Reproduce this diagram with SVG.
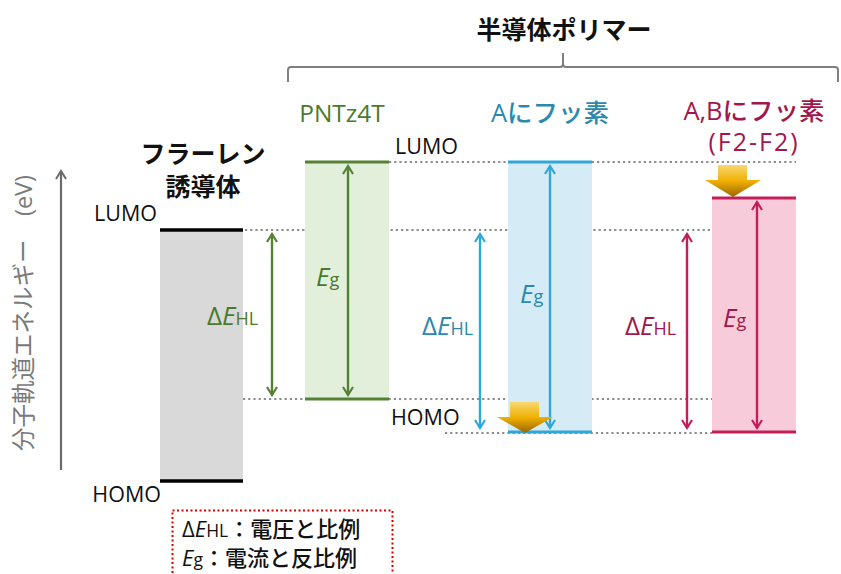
<svg xmlns="http://www.w3.org/2000/svg" width="841" height="574" viewBox="0 0 841 574">
<defs>
<style>
text{font-family:"Open Sans","Noto Sans CJK JP",sans-serif}
.dot{stroke:#8c8c8c;stroke-width:2.2;stroke-dasharray:2.2 3;fill:none}
.lbl{font-size:21.5px;fill:#111;font-weight:500}
.ttl{font-size:25px;font-weight:bold;fill:#111}
.sym{font-size:26px}
.sub{font-size:18px}
.g,.b,.r{font-weight:500}
.g{fill:#4a7a2c}.b{fill:#2c88ad}.r{fill:#a0184c}
.it{font-style:italic}
</style>
<marker id="mg" viewBox="0 0 12 12" refX="10" refY="6" markerWidth="12" markerHeight="12" markerUnits="userSpaceOnUse" orient="auto-start-reverse"><path d="M2,1 L10,6 L2,11" fill="none" stroke="#548235" stroke-width="2.2"/></marker>
<marker id="mb" viewBox="0 0 12 12" refX="10" refY="6" markerWidth="12" markerHeight="12" markerUnits="userSpaceOnUse" orient="auto-start-reverse"><path d="M2,1 L10,6 L2,11" fill="none" stroke="#2ea8da" stroke-width="2.2"/></marker>
<marker id="mr" viewBox="0 0 12 12" refX="10" refY="6" markerWidth="12" markerHeight="12" markerUnits="userSpaceOnUse" orient="auto-start-reverse"><path d="M2,1 L10,6 L2,11" fill="none" stroke="#c41e5a" stroke-width="2.2"/></marker>
<marker id="mk" viewBox="0 0 12 12" refX="10" refY="6" markerWidth="12" markerHeight="12" markerUnits="userSpaceOnUse" orient="auto"><path d="M2,1 L10,6 L2,11" fill="none" stroke="#6b6b6b" stroke-width="2"/></marker>
<linearGradient id="gold" x1="0" y1="0" x2="0" y2="1">
<stop offset="0" stop-color="#f8d872"/><stop offset="0.5" stop-color="#f0b000"/><stop offset="1" stop-color="#9a6400"/>
</linearGradient>
</defs>

<g id="connectors">
<line class="dot" x1="245" y1="230" x2="712" y2="230"/>
<line class="dot" x1="389" y1="162" x2="796" y2="162"/>
<line class="dot" x1="243" y1="399" x2="796" y2="399"/>
<line class="dot" x1="445" y1="433" x2="712" y2="433"/>
<line x1="61" y1="470" x2="61" y2="171" stroke="#6b6b6b" stroke-width="2.2" marker-end="url(#mk)"/>
</g>

<g id="axis-label">
<text x="0" y="0" transform="translate(32,313) rotate(-90)" text-anchor="middle" font-size="23.5" fill="#7a7a7a">分子軌道エネルギー　(eV)</text>
</g>

<g id="title">
<text class="ttl" x="564" y="39" text-anchor="middle" font-size="26">半導体ポリマー</text>
<path d="M288,82 L288,70 Q288,67 291,67 L560,67 Q563,67 563,64 L563,53 L563,64 Q563,67 566,67 L835,67 Q838,67 838,70 L838,82" fill="none" stroke="#7f7f7f" stroke-width="2"/>
</g>

<g id="fullerene">
<text class="ttl" x="203" y="163" text-anchor="middle">フラーレン</text>
<text class="ttl" x="203" y="196" text-anchor="middle">誘導体</text>
<rect x="160" y="230" width="83" height="251" fill="#d9d9d9"/>
<line x1="160" y1="230" x2="243" y2="230" stroke="#000" stroke-width="3.5"/>
<line x1="160" y1="481" x2="243" y2="481" stroke="#000" stroke-width="3.5"/>
<text class="lbl" x="157" y="221" text-anchor="end">LUMO</text>
<text class="lbl" x="161" y="502" text-anchor="end">HOMO</text>
</g>

<g id="pntz4t">
<text x="342" y="122" text-anchor="middle" font-size="24.5" class="g">PNTz4T</text>
<rect x="305" y="162" width="84" height="237" fill="#e2efda"/>
<line x1="305" y1="162" x2="389" y2="162" stroke="#548235" stroke-width="3"/>
<line x1="305" y1="399" x2="389" y2="399" stroke="#548235" stroke-width="3"/>
<line x1="348" y1="166" x2="348" y2="395" stroke="#548235" stroke-width="2.4" marker-start="url(#mg)" marker-end="url(#mg)"/>
<line x1="272" y1="234" x2="272" y2="395" stroke="#548235" stroke-width="2.4" marker-start="url(#mg)" marker-end="url(#mg)"/>
<text x="316" y="286" class="g sym"><tspan class="it">E</tspan><tspan class="sub">g</tspan></text>
<text x="207" y="325" class="g sym">Δ<tspan class="it">E</tspan><tspan class="sub">HL</tspan></text>
<text class="lbl" x="395" y="154">LUMO</text>
<text class="lbl" x="391" y="425">HOMO</text>
</g>

<g id="a-fluorine">
<text x="550" y="122" text-anchor="middle" font-size="25.5" class="b">Aにフッ素</text>
<rect x="508" y="162" width="84" height="270" fill="#d5ebf5"/>
<line x1="508" y1="162" x2="592" y2="162" stroke="#2ea8da" stroke-width="3"/>
<line x1="508" y1="432" x2="592" y2="432" stroke="#2ea8da" stroke-width="3"/>
<line x1="550" y1="166" x2="550" y2="428" stroke="#2ea8da" stroke-width="2.4" marker-start="url(#mb)" marker-end="url(#mb)"/>
<line x1="480" y1="234" x2="480" y2="428" stroke="#2ea8da" stroke-width="2.4" marker-start="url(#mb)" marker-end="url(#mb)"/>
<text x="520" y="303" class="b sym"><tspan class="it">E</tspan><tspan class="sub">g</tspan></text>
<text x="422" y="335" class="b sym">Δ<tspan class="it">E</tspan><tspan class="sub">HL</tspan></text>
<path d="M510,402 L539,402 L539,417 L553,417 L525,433 L497,417 L510,417 Z" fill="url(#gold)"/>
</g>

<g id="ab-fluorine">
<text x="754" y="120" text-anchor="middle" font-size="25.5" class="r">A,Bにフッ素</text>
<text x="754" y="151" text-anchor="middle" font-size="25" class="r" letter-spacing="2">(F2-F2)</text>
<rect x="712" y="198" width="84" height="234" fill="#f7cbd9"/>
<line x1="712" y1="198" x2="796" y2="198" stroke="#c41e5a" stroke-width="3"/>
<line x1="712" y1="432" x2="796" y2="432" stroke="#c41e5a" stroke-width="3"/>
<line x1="757" y1="202" x2="757" y2="428" stroke="#c41e5a" stroke-width="2.4" marker-start="url(#mr)" marker-end="url(#mr)"/>
<line x1="687" y1="234" x2="687" y2="428" stroke="#c41e5a" stroke-width="2.4" marker-start="url(#mr)" marker-end="url(#mr)"/>
<text x="723" y="327" class="r sym"><tspan class="it">E</tspan><tspan class="sub">g</tspan></text>
<text x="625" y="335" class="r sym">Δ<tspan class="it">E</tspan><tspan class="sub">HL</tspan></text>
<path d="M718,165 L747,165 L747,180 L761,180 L733,197 L705,180 L718,180 Z" fill="url(#gold)"/>
</g>

<g id="legend">
<rect x="172.5" y="510.5" width="220" height="70" fill="none" stroke="#d00000" stroke-width="2" stroke-dasharray="2 2.5"/>
<text x="182" y="537" font-size="22" fill="#111" font-weight="500">Δ<tspan class="it">E</tspan><tspan font-size="17.5">HL</tspan>：電圧と比例</text>
<text x="182" y="566" font-size="22" fill="#111" font-weight="500"><tspan class="it">E</tspan><tspan font-size="17.5">g</tspan>：電流と反比例</text>
</g>
</svg>
